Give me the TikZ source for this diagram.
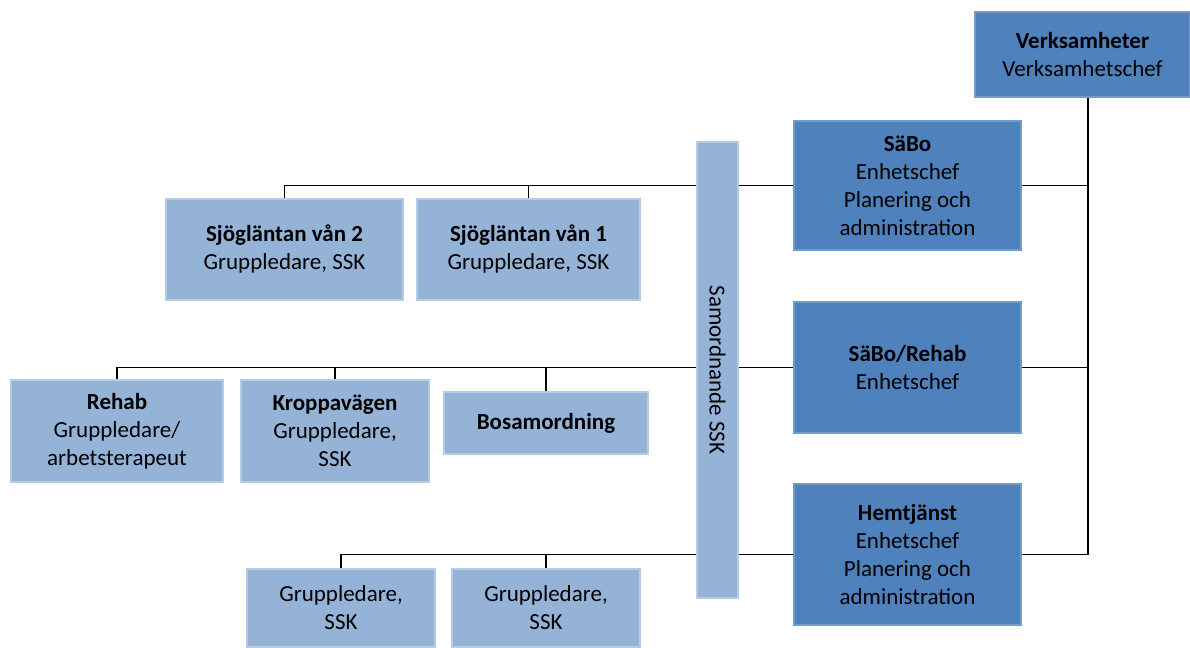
\documentclass[tikz,border=0pt]{standalone}
\usepackage{fontspec}
\setmainfont{Carlito}
\usetikzlibrary{backgrounds}
\definecolor{unitblue}{HTML}{4F81BD}
\definecolor{groupblue}{HTML}{95B3D7}
\begin{document}
\begin{tikzpicture}[x=0.5pt, y=-0.5pt,
	every node/.style={align=center, font=\fontsize{11.5}{14}\selectfont, inner sep=0pt},
	unitbox/.style={rectangle, fill=unitblue, draw=unitblue!80!white, line width=0.6pt},
	groupbox/.style={rectangle, fill=groupblue, draw=groupblue!70!white, line width=0.6pt},
	link/.style={draw=black, line width=0.9pt}]
	\useasboundingbox (0,0) rectangle (1190,648);

	% enheter
	\node[unitbox, minimum width=107.5pt, minimum height=42.5pt] (verk) at (1082.5, 54.5)
		{\textbf{Verksamheter}\\Verksamhetschef};
	\node[unitbox, minimum width=113.5pt, minimum height=64.5pt] (saebo) at (907.5, 185.5)
		{\textbf{SäBo}\\Enhetschef\\Planering och\\administration};
	\node[unitbox, minimum width=113.5pt, minimum height=65.5pt] (saeborehab) at (907.5, 367.5)
		{\textbf{SäBo/Rehab}\\Enhetschef};
	\node[unitbox, minimum width=113.5pt, minimum height=70.5pt] (hemtj) at (907.5, 554.5)
		{\textbf{Hemtjänst}\\Enhetschef\\Planering och\\administration};

	% samordnande
	\node[groupbox, minimum width=20.5pt, minimum height=228pt] (samord) at (717.5, 370) {};
	\node[rotate=-90] (samordtext) at (samord.center) {Samordnande SSK};

	% grupper
	\node[groupbox, minimum width=118.5pt, minimum height=50.5pt] (sjo2) at (284.5, 249.5)
		{\textbf{Sjögläntan vån 2}\\Gruppledare, SSK};
	\node[groupbox, minimum width=111.5pt, minimum height=50.5pt] (sjo1) at (528.5, 249.5)
		{\textbf{Sjögläntan vån 1}\\Gruppledare, SSK};
	\node[groupbox, minimum width=106pt, minimum height=51pt] (rehab) at (117, 431)
		{\textbf{Rehab}\\Gruppledare/\\arbetsterapeut};
	\node[groupbox, minimum width=94pt, minimum height=51pt] (kropp) at (335, 431)
		{\textbf{Kroppavägen}\\Gruppledare,\\SSK};
	\node[groupbox, minimum width=102pt, minimum height=31pt] (bosam) at (546, 423)
		{\textbf{Bosamordning}};
	\node[groupbox, minimum width=94pt, minimum height=39pt] (grp1) at (341, 608)
		{Gruppledare,\\SSK};
	\node[groupbox, minimum width=94pt, minimum height=39pt] (grp2) at (546, 608)
		{Gruppledare,\\SSK};

	\coordinate (trunk) at (1088, 97);

	\begin{scope}[on background layer]
		\draw[link] (trunk) -- (trunk |- hemtj.east);
		\draw[link] (saebo.east) -- (saebo.east -| trunk);
		\draw[link] (saeborehab.east) -- (saeborehab.east -| trunk);
		\draw[link] (hemtj.east) -- (hemtj.east -| trunk);

		\draw[link] (saebo.west) -| (sjo2.north);
		\draw[link] (sjo1.north) -- (sjo1.north |- saebo.west);
		\draw[link] (saeborehab.west) -| (rehab.north);
		\draw[link] (kropp.north) -- (kropp.north |- saeborehab.west);
		\draw[link] (bosam.north) -- (bosam.north |- saeborehab.west);
		\draw[link] (hemtj.west) -| (grp1.north);
		\draw[link] (grp2.north) -- (grp2.north |- hemtj.west);
	\end{scope}
\end{tikzpicture}
\end{document}
